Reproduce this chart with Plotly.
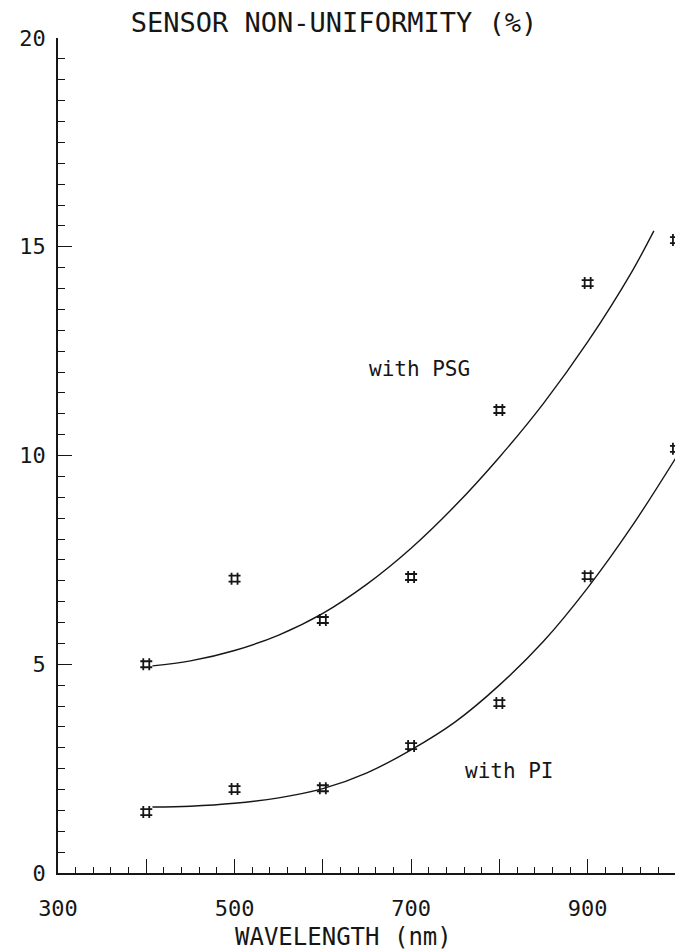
import plotly.graph_objects as go

# ---- data ----
wavelength = [400, 500, 600, 700, 800, 900, 1000]
psg_points = [5.0, 7.05, 6.06, 7.09, 11.09, 14.13, 15.16]
pi_points = [1.46, 2.01, 2.03, 3.04, 4.07, 7.11, 10.16]

# fitted curves (at several wavelengths)
psg_curve_x = [407, 450, 500, 550, 600, 650, 700, 750, 800, 850, 900, 950, 975]
psg_curve_y = [4.96, 5.08, 5.33, 5.70, 6.22, 6.92, 7.78, 8.80, 9.96, 11.25, 12.72, 14.40, 15.38]
pi_curve_x = [407, 450, 500, 550, 600, 650, 700, 750, 800, 850, 900, 950, 1006]
pi_curve_y = [1.58, 1.60, 1.67, 1.80, 2.02, 2.40, 2.95, 3.62, 4.50, 5.55, 6.83, 8.30, 10.15]

x_tick_vals = [300, 400, 500, 600, 700, 800, 900, 1000]
x_tick_text = ["300", "", "500", "", "700", "", "900", ""]
y_tick_vals = [0, 5, 10, 15, 20]
y_tick_text = ["0", "5", "10", "15", "20"]

title_text = "SENSOR NON-UNIFORMITY (%)"
x_title = "WAVELENGTH (nm)"
label_psg = "with PSG"
label_pi = "with PI"
label_psg_pos = (709, 12.07)
label_pi_pos = (812, 2.44)

INK = "#161616"
FONT = "DejaVu Sans Mono"

# the page body adds an 8 px offset; figure is sized to compensate
W, H = 675, 944

fig = go.Figure()

for cx, cy in [(psg_curve_x, psg_curve_y), (pi_curve_x, pi_curve_y)]:
    fig.add_trace(go.Scatter(
        x=cx, y=cy, mode="lines", cliponaxis=False,
        line=dict(color=INK, width=1.4, shape="spline", smoothing=1.0),
        hoverinfo="skip", showlegend=False,
    ))

for ys in [psg_points, pi_points]:
    fig.add_trace(go.Scatter(
        x=wavelength, y=ys, mode="markers", cliponaxis=False,
        marker=dict(symbol="hash-open", size=12, color=INK,
                    line=dict(color=INK, width=1.8)),
        showlegend=False,
    ))

for txt, (lx, ly) in [(label_psg, label_psg_pos), (label_pi, label_pi_pos)]:
    fig.add_annotation(x=lx, y=ly, text=txt, showarrow=False,
                       font=dict(family=FONT, size=21, color=INK),
                       xanchor="center", yanchor="middle")

# x-axis title placed below the tick labels
fig.add_annotation(x=(343 - 58) / 625, y=(873 - 937) / 835, xref="paper", yref="paper",
                   text=x_title, showarrow=False,
                   font=dict(family=FONT, size=24, color=INK),
                   xanchor="center", yanchor="middle")

fig.update_layout(
    width=W, height=H,
    margin=dict(l=50, r=0, t=30, b=79, autoexpand=False),
    paper_bgcolor="white", plot_bgcolor="white",
    title=dict(text=title_text, x=326 / W, y=1 - 15 / H,
               xanchor="center", yanchor="middle", automargin=False,
               font=dict(family=FONT, size=27, color=INK)),
    font=dict(family=FONT, color=INK),
)

fig.update_xaxes(
    range=[300, 1008], showgrid=False, zeroline=False, automargin=False,
    showline=True, linecolor=INK, linewidth=1.5,
    tickmode="array", tickvals=x_tick_vals, ticktext=x_tick_text,
    ticks="inside", ticklen=14, tickwidth=1.4, tickcolor=INK,
    minor=dict(dtick=20, tick0=300, ticks="inside", ticklen=6,
               tickwidth=1.3, tickcolor=INK, showgrid=False),
    tickfont=dict(family=FONT, size=22, color=INK),
    ticklabelstandoff=15,
)

fig.update_yaxes(
    range=[0, 20], showgrid=False, zeroline=False, automargin=False,
    showline=True, linecolor=INK, linewidth=1.5,
    tickmode="array", tickvals=y_tick_vals, ticktext=y_tick_text,
    ticks="inside", ticklen=14, tickwidth=1.4, tickcolor=INK,
    minor=dict(dtick=0.5, tick0=0, ticks="inside", ticklen=7,
               tickwidth=1.3, tickcolor=INK, showgrid=False),
    tickfont=dict(family=FONT, size=22, color=INK),
    ticklabelstandoff=6,
)

fig.write_html("out.html")
